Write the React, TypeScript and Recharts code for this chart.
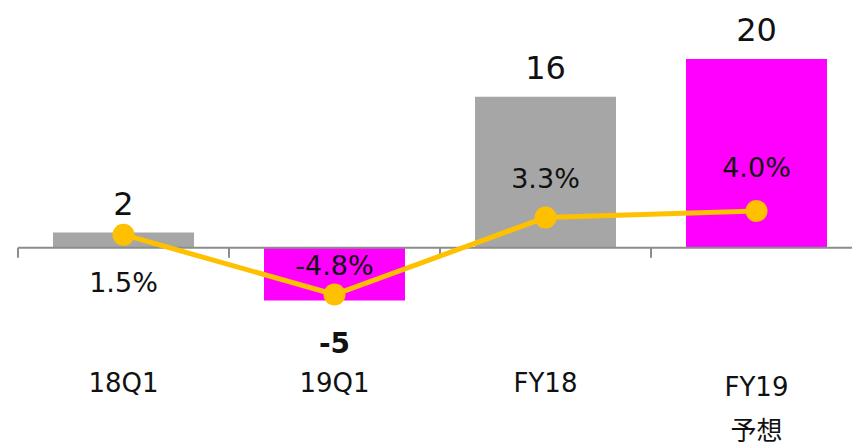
import { ComposedChart, Bar, Line, XAxis, YAxis, Cell, LabelList, ReferenceLine } from "recharts";

const categories = ["18Q1", "19Q1", "FY18", "FY19\n予想"];
const profitValues = [1.6, -5.6, 16, 20];
const profitLabels = ["2", "-5", "16", "20"];
const marginValues = [1.5, -4.8, 3.3, 4.0];
const marginLabels = ["1.5%", "-4.8%", "3.3%", "4.0%"];

const data = categories.map((name, i) => ({
  name,
  profit: profitValues[i],
  margin: marginValues[i],
}));

const FONT = "'DejaVu Sans', 'Noto Sans CJK JP', sans-serif";
const TEXT = "#111111";
const BAR_COLORS = ["#A6A6A6", "#FF00FF", "#A6A6A6", "#FF00FF"];
const LINE_COLOR = "#FFC000";
const AXIS_COLOR = "#8C8C8C";
// vertical offsets of the % labels from each point
const PCT_DY = [57, -20, -30, -34];

const CategoryTick = (props: any) => {
  const { x, y, payload } = props;
  const lines = String(payload.value).split("\n");
  const first = lines.length > 1 ? 54 : 50;
  return (
    <text x={x} y={y} textAnchor="middle" fontSize={26} fill={TEXT} fontFamily={FONT}>
      {lines.map((l, i) => (
        <tspan key={i} x={x} dy={i === 0 ? first : 44}>
          {l}
        </tspan>
      ))}
    </text>
  );
};

const ProfitLabel = (props: any) => {
  const vb = props.viewBox ?? props;
  const { x, y, width, height } = vb;
  const { index } = props;
  const top = Math.min(y, y + height);
  const bottom = Math.max(y, y + height);
  const negative = profitValues[index] < 0;
  return (
    <text
      x={x + width / 2}
      y={negative ? bottom + 53 : top - 18}
      textAnchor="middle"
      fontSize={negative ? 28 : 32}
      fontWeight={negative ? 700 : 400}
      fill={TEXT}
      fontFamily={FONT}
    >
      {profitLabels[index]}
    </text>
  );
};

const MarginLabel = (props: any) => {
  const vb = props.viewBox ?? props;
  const { x, y } = vb;
  const { index } = props;
  return (
    <text x={x} y={y + PCT_DY[index]} textAnchor="middle" fontSize={27} fill={TEXT} fontFamily={FONT}>
      {marginLabels[index]}
    </text>
  );
};

const ZeroAxis = (props: any) => {
  const { x1, y1, x2 } = props;
  const step = (x2 - x1) / categories.length;
  return (
    <g>
      <line x1={x1} y1={y1} x2={x2} y2={y1} stroke={AXIS_COLOR} strokeWidth={2} />
      {Array.from({ length: categories.length + 1 }, (_, i) => (
        <line key={i} x1={x1 + i * step} y1={y1} x2={x1 + i * step} y2={y1 + 10} stroke={AXIS_COLOR} strokeWidth={2} />
      ))}
    </g>
  );
};

export default function App() {
  return (
    <div style={{ position: "absolute", left: 0, top: 0, width: 852, height: 445, overflow: "hidden", background: "#fff" }}>
      <ComposedChart width={880} height={445} data={data} margin={{ top: 40, right: 18, bottom: 0, left: 18 }}>
        <XAxis
          dataKey="name"
          height={103}
          axisLine={false}
          tickLine={false}
          tickSize={0}
          tickMargin={0}
          interval={0}
          tick={<CategoryTick />}
        />
        <YAxis yAxisId="left" domain={[-10, 22]} hide allowDataOverflow />
        <YAxis yAxisId="right" orientation="right" domain={[-9.8, 22]} hide allowDataOverflow />
        <Bar yAxisId="left" dataKey="profit" barSize={141} isAnimationActive={false}>
          {data.map((_, i) => (
            <Cell key={`cell-${i}`} fill={BAR_COLORS[i % BAR_COLORS.length]} />
          ))}
          <LabelList dataKey="profit" content={<ProfitLabel />} />
        </Bar>
        <ReferenceLine yAxisId="left" y={0} shape={(p: any) => <ZeroAxis {...p} />} />
        <Line
          yAxisId="right"
          dataKey="margin"
          stroke={LINE_COLOR}
          strokeWidth={5}
          dot={{ r: 11, fill: LINE_COLOR, stroke: LINE_COLOR, strokeWidth: 0 }}
          activeDot={false}
          isAnimationActive={false}
        >
          <LabelList dataKey="margin" content={<MarginLabel />} />
        </Line>
      </ComposedChart>
    </div>
  );
}
